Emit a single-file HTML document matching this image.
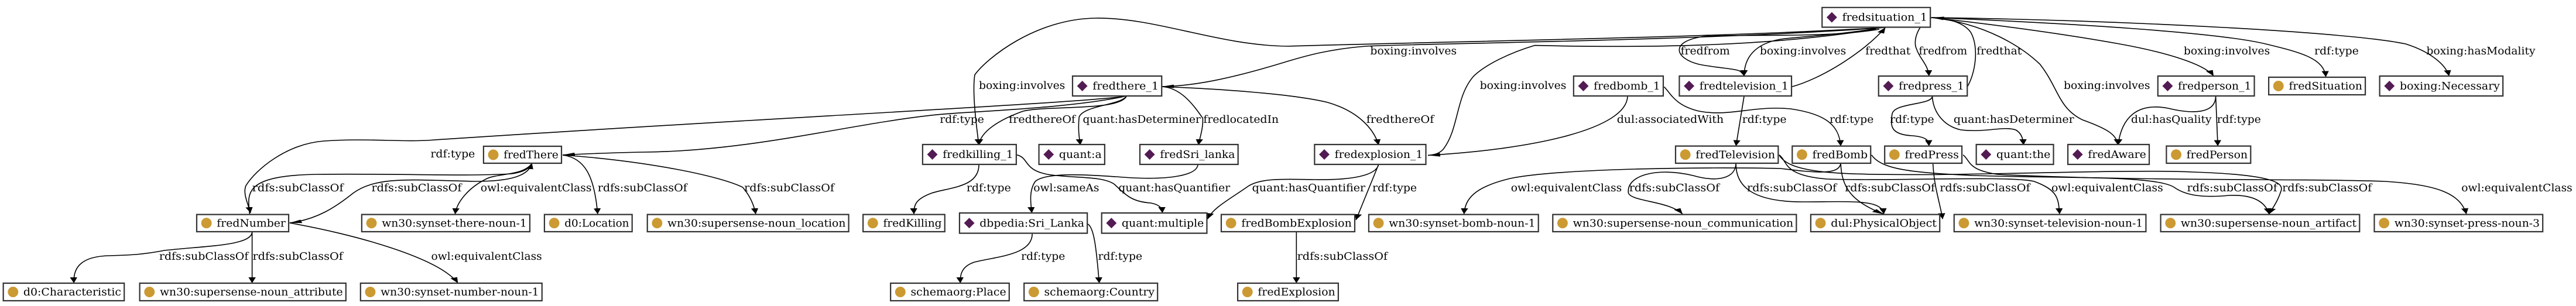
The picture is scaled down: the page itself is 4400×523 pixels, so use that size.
<!DOCTYPE html>
<html><head><meta charset="utf-8"><style>
html,body{margin:0;padding:0;background:#fff;width:4400px;height:523px;overflow:hidden}
svg{display:block}
text{font-family:"DejaVu Serif","Liberation Serif",serif;font-size:18px;fill:#000}
.e{fill:none;stroke:#000;stroke-width:1.6}
.b{fill:#fff;stroke:#333;stroke-width:2.2}
.d{fill:#531b53}
.c{fill:#cc9a33}
</style></head><body>
<svg width="4400" height="523" viewBox="0 0 2115 523" preserveAspectRatio="none" xmlns="http://www.w3.org/2000/svg">
<defs>
<marker id="a" markerUnits="userSpaceOnUse" markerWidth="12" markerHeight="8" refX="10" refY="3" orient="auto" viewBox="0 0 12 8">
<path d="M0,0 L10,3 L0,6 Z" fill="#000"/></marker>
</defs>
<g>
<path class="e" vector-effect="non-scaling-stroke" marker-end="url(#a)" d="M925,164 C900,175 600,205 354,239.5 C330,243 300,236 266,241 C235,246 210,290 202,317 C199,330 204,350 205.7,364"/>
<path class="e" vector-effect="non-scaling-stroke" marker-end="url(#a)" d="M925,164 C880,185 800,190 771.6,195.6 C700,210 620,258 528.8,260 C500,261 480,263 462,264.8"/>
<path class="e" vector-effect="non-scaling-stroke" marker-end="url(#a)" d="M462,265 C530,275 590,300 609.7,320 C616,335 619,350 620.5,366"/>
<path class="e" vector-effect="non-scaling-stroke" marker-end="url(#a)" d="M205,366 C203,330 200,300 260,298 C320,296 380,302 420,297 C430,294 435,288 436.8,279"/>
<path class="e" vector-effect="non-scaling-stroke" marker-end="url(#a)" d="M436.8,279 C434,300 420,310 390,310 C340,308 310,300 290,330 C275,355 260,375 237.8,381"/>
<path class="e" vector-effect="non-scaling-stroke" marker-end="url(#a)" d="M436.8,279 C430,300 410,296 400,305 C385,320 375,345 373.7,366"/>
<path class="e" vector-effect="non-scaling-stroke" marker-end="url(#a)" d="M462,265 C480,270 488,300 490.7,366"/>
<path class="e" vector-effect="non-scaling-stroke" marker-end="url(#a)" d="M207,396 C207,420 170,420 135,428 C120,434 110,436 90,437 C65,438 60,460 60.7,484"/>
<path class="e" vector-effect="non-scaling-stroke" marker-end="url(#a)" d="M207,396 L207,484"/>
<path class="e" vector-effect="non-scaling-stroke" marker-end="url(#a)" d="M237.8,381 C290,400 360,440 376,484"/>
<path class="e" vector-effect="non-scaling-stroke" marker-end="url(#a)" d="M1548,47 C1400,70 1150,75 1121.8,79 C1090,84 1070,97 1057.6,104.5 C1010,135 980,147 953.8,148"/>
<path class="e" vector-effect="non-scaling-stroke" marker-end="url(#a)" d="M1548,47 C1400,65 1200,70 1057.6,79 C1000,78 950,30 900,31 C850,32 810,100 800.3,128 C798,160 802,220 803.7,248"/>
<path class="e" vector-effect="non-scaling-stroke" marker-end="url(#a)" d="M1540,50 C1450,80 1350,82 1260,77.6 C1240,90 1220,110 1210,130 C1195,165 1198,220 1185,255 C1182,262 1178,265 1172.4,265.4"/>
<path class="e" vector-effect="non-scaling-stroke" marker-end="url(#a)" d="M953.8,148 C1000,152 1060,160 1090,175 C1115,190 1128,220 1131.9,248"/>
<path class="e" vector-effect="non-scaling-stroke" marker-end="url(#a)" d="M925,164 C920,180 890,180 886,200 C885,220 886,235 887,248"/>
<path class="e" vector-effect="non-scaling-stroke" marker-end="url(#a)" d="M925,164 C920,190 860,180 840,190 C820,205 805,225 803.7,248"/>
<path class="e" vector-effect="non-scaling-stroke" marker-end="url(#a)" d="M953.8,148 C970,150 980,180 987.5,202 C988,220 985,235 984,248"/>
<path class="e" vector-effect="non-scaling-stroke" marker-end="url(#a)" d="M835,264.8 C845,270 840,290 860,298 C880,305 905,300 915,315 C925,335 930,345 945,347 C952,350 954,355 954.4,364"/>
<path class="e" vector-effect="non-scaling-stroke" marker-end="url(#a)" d="M983.5,281 C983,300 960,307 930,304 C900,300 860,292 850,310 C845,325 846,345 847.2,364"/>
<path class="e" vector-effect="non-scaling-stroke" marker-end="url(#a)" d="M803.7,281 C804,320 780,320 765,330 C752,340 750,350 750.4,366"/>
<path class="e" vector-effect="non-scaling-stroke" marker-end="url(#a)" d="M1131.9,281 C1130,300 1110,308 1080,307 C1050,306 1035,305 1025,318 C1010,340 996,355 991.5,374.4"/>
<path class="e" vector-effect="non-scaling-stroke" marker-end="url(#a)" d="M847.5,398.6 C848,435 820,438 800,448 C790,455 788,468 788.5,484"/>
<path class="e" vector-effect="non-scaling-stroke" marker-end="url(#a)" d="M893,382.8 C898,388 900,420 902.5,484"/>
<path class="e" vector-effect="non-scaling-stroke" marker-end="url(#a)" d="M1131.9,281 L1113.3,376"/>
<path class="e" vector-effect="non-scaling-stroke" marker-end="url(#a)" d="M1064.4,396 L1064.4,484"/>
<path class="e" vector-effect="non-scaling-stroke" marker-end="url(#a)" d="M1336.3,164 C1336,220 1260,255 1172.4,265.4"/>
<path class="e" vector-effect="non-scaling-stroke" marker-end="url(#a)" d="M1366.3,148.4 C1372,160 1375,180 1395,190 C1420,200 1440,180 1470,186 C1500,195 1510,215 1511.3,249.6"/>
<path class="e" vector-effect="non-scaling-stroke" marker-end="url(#a)" d="M1432,164 L1425.3,249.6"/>
<path class="e" vector-effect="non-scaling-stroke" marker-end="url(#a)" d="M1545,47 C1510,60 1480,62 1462,67 C1440,75 1432,100 1432,130"/>
<path class="e" vector-effect="non-scaling-stroke" marker-end="url(#a)" d="M1543,50 C1500,65 1440,58 1400,62 C1370,70 1375,100 1395,110 C1420,120 1430,115 1432,130"/>
<path class="e" vector-effect="non-scaling-stroke" marker-end="url(#a)" d="M1470.9,148.4 C1495,135 1530,90 1548,47"/>
<path class="e" vector-effect="non-scaling-stroke" marker-end="url(#a)" d="M1511.3,279 C1510,300 1490,295 1462,288 C1400,285 1280,288 1240,305 C1210,320 1203,340 1202,366"/>
<path class="e" vector-effect="non-scaling-stroke" marker-end="url(#a)" d="M1425.3,279 C1425,305 1410,312 1390,300 C1360,285 1335,300 1337,330 C1340,345 1370,343 1381.5,366"/>
<path class="e" vector-effect="non-scaling-stroke" marker-end="url(#a)" d="M1425.3,279 C1425,320 1440,345 1480,345 C1520,345 1545,340 1546.7,366"/>
<path class="e" vector-effect="non-scaling-stroke" marker-end="url(#a)" d="M1511.3,279 C1512,320 1520,345 1546.7,366"/>
<path class="e" vector-effect="non-scaling-stroke" marker-end="url(#a)" d="M1460.7,264.8 C1468,275 1463,300 1500,306 C1550,310 1650,300 1670,310 C1690,325 1690,340 1691,366"/>
<path class="e" vector-effect="non-scaling-stroke" marker-end="url(#a)" d="M1536.6,264.8 C1545,290 1570,295 1620,300 C1700,305 1770,300 1785,320 C1795,335 1810,338 1830,334 C1850,332 1860,345 1863,366"/>
<path class="e" vector-effect="non-scaling-stroke" marker-end="url(#a)" d="M1460.7,264.8 C1470,300 1520,298 1586.5,298.5 C1680,296 1760,290 1800,294 C1860,298 1875,310 1873,325 C1870,345 1866,355 1863,366"/>
<path class="e" vector-effect="non-scaling-stroke" marker-end="url(#a)" d="M1587,279 C1588,320 1592,340 1595,374.4"/>
<path class="e" vector-effect="non-scaling-stroke" marker-end="url(#a)" d="M1611.8,264.8 C1618,275 1615,290 1640,298 C1750,310 1900,305 1957.5,310 C2000,315 2020,330 2025,366"/>
<path class="e" vector-effect="non-scaling-stroke" marker-end="url(#a)" d="M1586,30 C1575,40 1570,70 1573.7,84.3 C1576,100 1583,110 1583.8,130"/>
<path class="e" vector-effect="non-scaling-stroke" marker-end="url(#a)" d="M1615.2,148.4 C1622,125 1625,80 1618,55 C1612,38 1600,32 1586,30"/>
<path class="e" vector-effect="non-scaling-stroke" marker-end="url(#a)" d="M1586,30 C1650,45 1700,60 1740,75 C1780,90 1810,110 1817.5,130"/>
<path class="e" vector-effect="non-scaling-stroke" marker-end="url(#a)" d="M1586,30 C1700,40 1820,55 1860,75 C1890,90 1908,100 1909.6,131.5"/>
<path class="e" vector-effect="non-scaling-stroke" marker-end="url(#a)" d="M1586,30 C1750,35 1930,55 1975,75 C1995,88 2008,110 2010.8,130"/>
<path class="e" vector-effect="non-scaling-stroke" marker-end="url(#a)" d="M1586,30 C1630,40 1660,80 1675,110 C1690,150 1690,185 1710,205 C1730,220 1738,230 1739,248"/>
<path class="e" vector-effect="non-scaling-stroke" marker-end="url(#a)" d="M1586.5,164 C1587,190 1595,215 1610,222 C1630,227 1645,215 1655,222 C1660,228 1661,238 1661.4,248"/>
<path class="e" vector-effect="non-scaling-stroke" marker-end="url(#a)" d="M1586.5,164 C1587,180 1555,175 1553.5,195 C1552,215 1552,230 1570,232 C1582,234 1583.5,240 1583.8,249.6"/>
<path class="e" vector-effect="non-scaling-stroke" marker-end="url(#a)" d="M1819.2,164.3 C1819,195 1800,195 1780,185 C1755,175 1742,200 1739,248"/>
<path class="e" vector-effect="non-scaling-stroke" marker-end="url(#a)" d="M1819.2,164.3 L1820.9,249.6"/>
</g>
<g>
<text x="1125" y="93" textLength="71" lengthAdjust="spacingAndGlyphs">boxing:involves</text>
<text x="1379.8" y="93" textLength="40.5" lengthAdjust="spacingAndGlyphs">fredfrom</text>
<text x="1444.9" y="93" textLength="70.8" lengthAdjust="spacingAndGlyphs">boxing:involves</text>
<text x="1531.6" y="93" textLength="37" lengthAdjust="spacingAndGlyphs">fredthat</text>
<text x="1575.4" y="93" textLength="39.8" lengthAdjust="spacingAndGlyphs">fredfrom</text>
<text x="1622.9" y="93" textLength="37" lengthAdjust="spacingAndGlyphs">fredthat</text>
<text x="1792.9" y="93" textLength="70.8" lengthAdjust="spacingAndGlyphs">boxing:involves</text>
<text x="1900.2" y="93" textLength="36.4" lengthAdjust="spacingAndGlyphs">rdf:type</text>
<text x="1992.2" y="93" textLength="89.4" lengthAdjust="spacingAndGlyphs">boxing:hasModality</text>
<text x="803.7" y="152" textLength="70.8" lengthAdjust="spacingAndGlyphs">boxing:involves</text>
<text x="1215" y="152" textLength="71" lengthAdjust="spacingAndGlyphs">boxing:involves</text>
<text x="1694.4" y="152" textLength="70.9" lengthAdjust="spacingAndGlyphs">boxing:involves</text>
<text x="771.6" y="210" textLength="36.4" lengthAdjust="spacingAndGlyphs">rdf:type</text>
<text x="828.3" y="210" textLength="54.7" lengthAdjust="spacingAndGlyphs">fredthereOf</text>
<text x="889" y="210" textLength="96.8" lengthAdjust="spacingAndGlyphs">quant:hasDeterminer</text>
<text x="988" y="210" textLength="61.9" lengthAdjust="spacingAndGlyphs">fredlocatedIn</text>
<text x="1121.8" y="210" textLength="55.6" lengthAdjust="spacingAndGlyphs">fredthereOf</text>
<text x="1327.5" y="210" textLength="87.7" lengthAdjust="spacingAndGlyphs">dul:associatedWith</text>
<text x="1430.4" y="210" textLength="36.4" lengthAdjust="spacingAndGlyphs">rdf:type</text>
<text x="1502.2" y="210" textLength="36.1" lengthAdjust="spacingAndGlyphs">rdf:type</text>
<text x="1551.8" y="210" textLength="36.2" lengthAdjust="spacingAndGlyphs">rdf:type</text>
<text x="1604" y="210" textLength="98.9" lengthAdjust="spacingAndGlyphs">quant:hasDeterminer</text>
<text x="1749.7" y="210" textLength="66.1" lengthAdjust="spacingAndGlyphs">dul:hasQuality</text>
<text x="1820.2" y="210" textLength="36.1" lengthAdjust="spacingAndGlyphs">rdf:type</text>
<text x="353.5" y="269" textLength="36.5" lengthAdjust="spacingAndGlyphs">rdf:type</text>
<text x="207" y="327" textLength="75" lengthAdjust="spacingAndGlyphs">rdfs:subClassOf</text>
<text x="305" y="327" textLength="74" lengthAdjust="spacingAndGlyphs">rdfs:subClassOf</text>
<text x="394.6" y="327" textLength="91.1" lengthAdjust="spacingAndGlyphs">owl:equivalentClass</text>
<text x="490.7" y="327" textLength="73.5" lengthAdjust="spacingAndGlyphs">rdfs:subClassOf</text>
<text x="611" y="327" textLength="74" lengthAdjust="spacingAndGlyphs">rdfs:subClassOf</text>
<text x="793.6" y="327" textLength="36.4" lengthAdjust="spacingAndGlyphs">rdf:type</text>
<text x="848.5" y="327" textLength="54" lengthAdjust="spacingAndGlyphs">owl:sameAs</text>
<text x="918.3" y="327" textLength="91.7" lengthAdjust="spacingAndGlyphs">quant:hasQuantifier</text>
<text x="1028" y="327" textLength="93" lengthAdjust="spacingAndGlyphs">quant:hasQuantifier</text>
<text x="1126.8" y="327" textLength="36.5" lengthAdjust="spacingAndGlyphs">rdf:type</text>
<text x="1240.5" y="327" textLength="91.1" lengthAdjust="spacingAndGlyphs">owl:equivalentClass</text>
<text x="1337.6" y="327" textLength="74.2" lengthAdjust="spacingAndGlyphs">rdfs:subClassOf</text>
<text x="1434.4" y="327" textLength="73.6" lengthAdjust="spacingAndGlyphs">rdfs:subClassOf</text>
<text x="1514.7" y="327" textLength="74" lengthAdjust="spacingAndGlyphs">rdfs:subClassOf</text>
<text x="1592.6" y="327" textLength="74.2" lengthAdjust="spacingAndGlyphs">rdfs:subClassOf</text>
<text x="1684.3" y="327" textLength="91.7" lengthAdjust="spacingAndGlyphs">owl:equivalentClass</text>
<text x="1795.6" y="327" textLength="74.2" lengthAdjust="spacingAndGlyphs">rdfs:subClassOf</text>
<text x="1873.8" y="327" textLength="73.6" lengthAdjust="spacingAndGlyphs">rdfs:subClassOf</text>
<text x="2020.9" y="327" textLength="91.1" lengthAdjust="spacingAndGlyphs">owl:equivalentClass</text>
<text x="130.7" y="444" textLength="73.3" lengthAdjust="spacingAndGlyphs">rdfs:subClassOf</text>
<text x="207.4" y="444" textLength="74.2" lengthAdjust="spacingAndGlyphs">rdfs:subClassOf</text>
<text x="354" y="444" textLength="91" lengthAdjust="spacingAndGlyphs">owl:equivalentClass</text>
<text x="838.4" y="444" textLength="36.1" lengthAdjust="spacingAndGlyphs">rdf:type</text>
<text x="901.5" y="444" textLength="36.4" lengthAdjust="spacingAndGlyphs">rdf:type</text>
<text x="1065" y="444" textLength="74.3" lengthAdjust="spacingAndGlyphs">rdfs:subClassOf</text>
</g>
<g>
<rect class="b" vector-effect="non-scaling-stroke" x="397" y="250" width="64" height="29"/><ellipse class="c" cx="405" cy="264.5" rx="4.3" ry="9"/><text x="413.5" y="270.5" textLength="45" lengthAdjust="spacingAndGlyphs">fredThere</text>
<rect class="b" vector-effect="non-scaling-stroke" x="161.5" y="366.6" width="75.5" height="29.4"/><ellipse class="c" cx="169.5" cy="381.3" rx="4.3" ry="9"/><text x="178" y="387.3" textLength="56.5" lengthAdjust="spacingAndGlyphs">fredNumber</text>
<rect class="b" vector-effect="non-scaling-stroke" x="297" y="366.6" width="138" height="29.4"/><ellipse class="c" cx="305" cy="381.3" rx="4.3" ry="9"/><text x="313.5" y="387.3" textLength="119" lengthAdjust="spacingAndGlyphs">wn30:synset-there-noun-1</text>
<rect class="b" vector-effect="non-scaling-stroke" x="447" y="366.6" width="72" height="29.4"/><ellipse class="c" cx="455" cy="381.3" rx="4.3" ry="9"/><text x="463.5" y="387.3" textLength="53" lengthAdjust="spacingAndGlyphs">d0:Location</text>
<rect class="b" vector-effect="non-scaling-stroke" x="2.7" y="484" width="99.3" height="30"/><ellipse class="c" cx="10.7" cy="499" rx="4.3" ry="9"/><text x="19.2" y="505" textLength="80.3" lengthAdjust="spacingAndGlyphs">d0:Characteristic</text>
<rect class="b" vector-effect="non-scaling-stroke" x="114.7" y="484" width="169.3" height="30"/><ellipse class="c" cx="122.7" cy="499" rx="4.3" ry="9"/><text x="131.2" y="505" textLength="150.3" lengthAdjust="spacingAndGlyphs">wn30:supersense-noun_attribute</text>
<rect class="b" vector-effect="non-scaling-stroke" x="296" y="484" width="149" height="30"/><ellipse class="c" cx="304" cy="499" rx="4.3" ry="9"/><text x="312.5" y="505" textLength="130" lengthAdjust="spacingAndGlyphs">wn30:synset-number-noun-1</text>
<rect class="b" vector-effect="non-scaling-stroke" x="880.6" y="130" width="73.2" height="34"/><path class="d" d="M888.6,138 L892.9,147 L888.6,156 L884.3,147 Z"/><text x="897.1" y="153" textLength="54.2" lengthAdjust="spacingAndGlyphs">fredthere_1</text>
<rect class="b" vector-effect="non-scaling-stroke" x="757.5" y="247" width="76.9" height="34"/><path class="d" d="M765.5,255 L769.8,264 L765.5,273 L761.2,264 Z"/><text x="774" y="270" textLength="57.9" lengthAdjust="spacingAndGlyphs">fredkilling_1</text>
<rect class="b" vector-effect="non-scaling-stroke" x="853" y="247" width="54" height="34"/><path class="d" d="M861,255 L865.3,264 L861,273 L856.7,264 Z"/><text x="869.5" y="270" textLength="35" lengthAdjust="spacingAndGlyphs">quant:a</text>
<rect class="b" vector-effect="non-scaling-stroke" x="935.9" y="247" width="80.6" height="34"/><path class="d" d="M943.9,255 L948.2,264 L943.9,273 L939.6,264 Z"/><text x="952.4" y="270" textLength="61.6" lengthAdjust="spacingAndGlyphs">fredSri_lanka</text>
<rect class="b" vector-effect="non-scaling-stroke" x="531.5" y="366.6" width="165.3" height="29.4"/><ellipse class="c" cx="539.5" cy="381.3" rx="4.3" ry="9"/><text x="548" y="387.3" textLength="146.3" lengthAdjust="spacingAndGlyphs">wn30:supersense-noun_location</text>
<rect class="b" vector-effect="non-scaling-stroke" x="708.6" y="366.6" width="67.1" height="29.4"/><ellipse class="c" cx="716.6" cy="381.3" rx="4.3" ry="9"/><text x="725.1" y="387.3" textLength="48.1" lengthAdjust="spacingAndGlyphs">fredKilling</text>
<rect class="b" vector-effect="non-scaling-stroke" x="787.8" y="364" width="104.9" height="34.6"/><path class="d" d="M795.8,372.3 L800.1,381.3 L795.8,390.3 L791.5,381.3 Z"/><text x="804.3" y="387.3" textLength="85.9" lengthAdjust="spacingAndGlyphs">dbpedia:Sri_Lanka</text>
<rect class="b" vector-effect="non-scaling-stroke" x="904.5" y="364" width="86.4" height="34.6"/><path class="d" d="M912.5,372.3 L916.8,381.3 L912.5,390.3 L908.2,381.3 Z"/><text x="921" y="387.3" textLength="67.4" lengthAdjust="spacingAndGlyphs">quant:multiple</text>
<rect class="b" vector-effect="non-scaling-stroke" x="731.2" y="484" width="97.4" height="30"/><ellipse class="c" cx="739.2" cy="499" rx="4.3" ry="9"/><text x="747.7" y="505" textLength="78.4" lengthAdjust="spacingAndGlyphs">schemaorg:Place</text>
<rect class="b" vector-effect="non-scaling-stroke" x="840.8" y="484" width="109.6" height="30"/><ellipse class="c" cx="848.8" cy="499" rx="4.3" ry="9"/><text x="857.3" y="505" textLength="90.6" lengthAdjust="spacingAndGlyphs">schemaorg:Country</text>
<rect class="b" vector-effect="non-scaling-stroke" x="1496" y="12.8" width="88.9" height="33.7"/><path class="d" d="M1504,20.6 L1508.3,29.6 L1504,38.6 L1499.7,29.6 Z"/><text x="1512.5" y="35.6" textLength="69.9" lengthAdjust="spacingAndGlyphs">fredsituation_1</text>
<rect class="b" vector-effect="non-scaling-stroke" x="1292" y="130" width="73.6" height="34"/><path class="d" d="M1300,138 L1304.3,147 L1300,156 L1295.7,147 Z"/><text x="1308.5" y="153" textLength="54.6" lengthAdjust="spacingAndGlyphs">fredbomb_1</text>
<rect class="b" vector-effect="non-scaling-stroke" x="1378.8" y="130" width="92.1" height="34"/><path class="d" d="M1386.8,138 L1391.1,147 L1386.8,156 L1382.5,147 Z"/><text x="1395.3" y="153" textLength="73.1" lengthAdjust="spacingAndGlyphs">fredtelevision_1</text>
<rect class="b" vector-effect="non-scaling-stroke" x="1079.3" y="247" width="91.4" height="34"/><path class="d" d="M1087.3,255 L1091.6,264 L1087.3,273 L1083,264 Z"/><text x="1095.8" y="270" textLength="72.4" lengthAdjust="spacingAndGlyphs">fredexplosion_1</text>
<rect class="b" vector-effect="non-scaling-stroke" x="1375.7" y="249.6" width="84.3" height="29.4"/><ellipse class="c" cx="1383.7" cy="264.3" rx="4.3" ry="9"/><text x="1392.2" y="270.3" textLength="65.3" lengthAdjust="spacingAndGlyphs">fredTelevision</text>
<rect class="b" vector-effect="non-scaling-stroke" x="1471.5" y="249.6" width="64.4" height="29.4"/><ellipse class="c" cx="1479.5" cy="264.3" rx="4.3" ry="9"/><text x="1488" y="270.3" textLength="45.4" lengthAdjust="spacingAndGlyphs">fredBomb</text>
<rect class="b" vector-effect="non-scaling-stroke" x="1002.7" y="366.6" width="109.6" height="29.4"/><ellipse class="c" cx="1010.7" cy="381.3" rx="4.3" ry="9"/><text x="1019.2" y="387.3" textLength="90.6" lengthAdjust="spacingAndGlyphs">fredBombExplosion</text>
<rect class="b" vector-effect="non-scaling-stroke" x="1123.8" y="366.6" width="139.3" height="29.4"/><ellipse class="c" cx="1131.8" cy="381.3" rx="4.3" ry="9"/><text x="1140.3" y="387.3" textLength="120.3" lengthAdjust="spacingAndGlyphs">wn30:synset-bomb-noun-1</text>
<rect class="b" vector-effect="non-scaling-stroke" x="1274.9" y="366.6" width="200" height="29.4"/><ellipse class="c" cx="1282.9" cy="381.3" rx="4.3" ry="9"/><text x="1291.4" y="387.3" textLength="181" lengthAdjust="spacingAndGlyphs">wn30:supersense-noun_communication</text>
<rect class="b" vector-effect="non-scaling-stroke" x="1486.7" y="366.6" width="105.9" height="29.4"/><ellipse class="c" cx="1494.7" cy="381.3" rx="4.3" ry="9"/><text x="1503.2" y="387.3" textLength="86.9" lengthAdjust="spacingAndGlyphs">dul:PhysicalObject</text>
<rect class="b" vector-effect="non-scaling-stroke" x="1016.2" y="484" width="82.6" height="30"/><ellipse class="c" cx="1024.2" cy="499" rx="4.3" ry="9"/><text x="1032.7" y="505" textLength="63.6" lengthAdjust="spacingAndGlyphs">fredExplosion</text>
<rect class="b" vector-effect="non-scaling-stroke" x="1542.4" y="130" width="72.8" height="34"/><path class="d" d="M1550.4,138 L1554.7,147 L1550.4,156 L1546.1,147 Z"/><text x="1558.9" y="153" textLength="53.8" lengthAdjust="spacingAndGlyphs">fredpress_1</text>
<rect class="b" vector-effect="non-scaling-stroke" x="1547.4" y="249.6" width="63.4" height="29.4"/><ellipse class="c" cx="1555.4" cy="264.3" rx="4.3" ry="9"/><text x="1563.9" y="270.3" textLength="44.4" lengthAdjust="spacingAndGlyphs">fredPress</text>
<rect class="b" vector-effect="non-scaling-stroke" x="1771.7" y="130" width="79.2" height="34"/><path class="d" d="M1779.7,138 L1784,147 L1779.7,156 L1775.4,147 Z"/><text x="1788.2" y="153" textLength="60.2" lengthAdjust="spacingAndGlyphs">fredperson_1</text>
<rect class="b" vector-effect="non-scaling-stroke" x="1862.7" y="132" width="79.3" height="30"/><ellipse class="c" cx="1870.7" cy="147" rx="4.3" ry="9"/><text x="1879.2" y="153" textLength="60.3" lengthAdjust="spacingAndGlyphs">fredSituation</text>
<rect class="b" vector-effect="non-scaling-stroke" x="1953.8" y="130" width="101.2" height="34"/><path class="d" d="M1961.8,138 L1966.1,147 L1961.8,156 L1957.5,147 Z"/><text x="1970.3" y="153" textLength="82.2" lengthAdjust="spacingAndGlyphs">boxing:Necessary</text>
<rect class="b" vector-effect="non-scaling-stroke" x="1622.6" y="247" width="63.4" height="34"/><path class="d" d="M1630.6,255 L1634.9,264 L1630.6,273 L1626.3,264 Z"/><text x="1639.1" y="270" textLength="44.4" lengthAdjust="spacingAndGlyphs">quant:the</text>
<rect class="b" vector-effect="non-scaling-stroke" x="1697.8" y="247" width="66.8" height="34"/><path class="d" d="M1705.8,255 L1710.1,264 L1705.8,273 L1701.5,264 Z"/><text x="1714.3" y="270" textLength="47.8" lengthAdjust="spacingAndGlyphs">fredAware</text>
<rect class="b" vector-effect="non-scaling-stroke" x="1778.7" y="249.6" width="69.2" height="29.4"/><ellipse class="c" cx="1786.7" cy="264.3" rx="4.3" ry="9"/><text x="1795.2" y="270.3" textLength="50.2" lengthAdjust="spacingAndGlyphs">fredPerson</text>
<rect class="b" vector-effect="non-scaling-stroke" x="1604.4" y="366.6" width="157.5" height="29.4"/><ellipse class="c" cx="1612.4" cy="381.3" rx="4.3" ry="9"/><text x="1620.9" y="387.3" textLength="138.5" lengthAdjust="spacingAndGlyphs">wn30:synset-television-noun-1</text>
<rect class="b" vector-effect="non-scaling-stroke" x="1774" y="366.6" width="163.3" height="29.4"/><ellipse class="c" cx="1782" cy="381.3" rx="4.3" ry="9"/><text x="1790.5" y="387.3" textLength="144.3" lengthAdjust="spacingAndGlyphs">wn30:supersense-noun_artifact</text>
<rect class="b" vector-effect="non-scaling-stroke" x="1949.4" y="366.6" width="138.3" height="29.4"/><ellipse class="c" cx="1957.4" cy="381.3" rx="4.3" ry="9"/><text x="1965.9" y="387.3" textLength="119.3" lengthAdjust="spacingAndGlyphs">wn30:synset-press-noun-3</text>
</g>
</svg>
</body></html>
